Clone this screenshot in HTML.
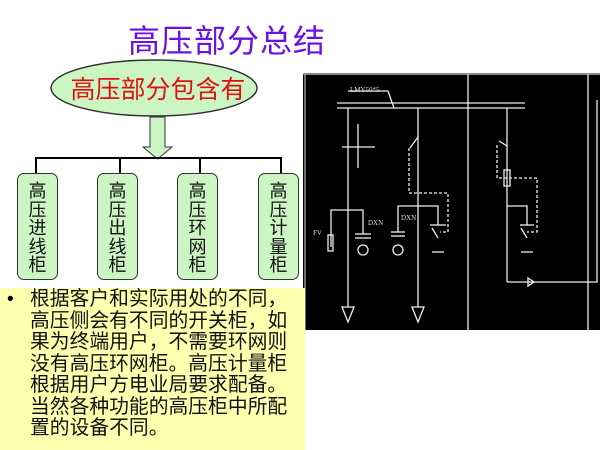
<!DOCTYPE html>
<html><head><meta charset="utf-8"><style>
body{margin:0;width:600px;height:450px;background:#fff;position:relative;overflow:hidden;font-family:"Liberation Sans","Noto Sans CJK SC",sans-serif}
.t{position:absolute;left:128px;top:16px;font-size:32px;color:#6a10e8;letter-spacing:1px;white-space:nowrap}
.box{position:absolute;top:173px;width:41px;height:107px;background:#ccf5c4;border:1.5px solid #333;border-radius:7px;box-sizing:border-box;font-size:18px;line-height:18.5px;text-align:center;padding-top:8px;color:#111}
.y{position:absolute;left:0;top:288px;width:305px;height:162px;background:#ffffb0}
.p{position:absolute;left:30px;top:289px;font-size:19.8px;line-height:21.5px;color:#111;width:280px;white-space:nowrap}
.b{position:absolute;left:7px;top:289px;font-size:19px;line-height:21.6px}
</style></head><body>
<div class="t">高压部分总结</div>
<svg width="600" height="450" style="position:absolute;left:0;top:0">
<ellipse cx="154" cy="88" rx="103" ry="28" fill="#ccf5c4" stroke="#333" stroke-width="1.5"/>
<text x="158" y="98" text-anchor="middle" font-size="25" fill="#e01010" font-family="Liberation Sans,Noto Sans CJK SC,sans-serif">高压部分包含有</text>
<polygon points="150,117 165,117 165,147 172,147 157.5,159 143,147 150,147" fill="#ccf5c4" stroke="#333" stroke-width="1"/>
<polyline points="36,173 36,158 281,158 281,173" fill="none" stroke="#000" stroke-width="2"/>
<line x1="120" y1="158" x2="120" y2="173" stroke="#000" stroke-width="2"/>
<line x1="200" y1="158" x2="200" y2="173" stroke="#000" stroke-width="2"/>
<rect x="303" y="74" width="297" height="256" fill="#000"/>
<line x1="303" y1="74" x2="600" y2="74" stroke="#888" stroke-width="2"/>
<g stroke="#eee" stroke-width="1.3" fill="none">
<line x1="305" y1="74" x2="305" y2="330" stroke="#aaa"/>
<line x1="337" y1="103" x2="525" y2="103"/><line x1="337" y1="108" x2="525" y2="108"/>
<polyline points="348,91 388,91 394,108"/>
<line x1="468" y1="74" x2="468" y2="330"/><line x1="588" y1="74" x2="588" y2="330"/>
<line x1="348" y1="108" x2="348" y2="307"/>
<polygon points="342,307 354,307 348,322"/>
<line x1="342" y1="147" x2="375" y2="147"/><line x1="358" y1="124" x2="358" y2="168"/>
<polyline points="331,247 331,210 363,210 363,234"/>
<line x1="355" y1="234" x2="371" y2="234"/><line x1="355" y1="238" x2="371" y2="238"/>
<circle cx="363" cy="250" r="5"/>
<rect x="328" y="235" width="5" height="16"/>
<line x1="418" y1="108" x2="418" y2="307"/>
<polygon points="412,307 424,307 418,322"/>
<line x1="418" y1="137" x2="410" y2="148"/>
<polyline points="409,148 409,193 448,193 448,232 440,232" stroke-dasharray="3,2"/>
<polyline points="398,232 398,206 438,206 438,225"/>
<line x1="430" y1="225" x2="446" y2="225"/>
<line x1="438" y1="238" x2="432" y2="228"/>
<line x1="432" y1="252" x2="444" y2="252"/>
<line x1="391" y1="232" x2="405" y2="232"/><line x1="391" y1="236" x2="405" y2="236"/>
<circle cx="398" cy="250" r="5"/>
<line x1="507" y1="108" x2="507" y2="282"/>
<line x1="507" y1="146" x2="499" y2="141"/>
<polyline points="497,145 497,178 537,178 537,232 527,232" stroke-dasharray="3,2"/>
<rect x="504" y="170" width="6" height="16"/>
<polyline points="507,206 527,206 527,225"/>
<line x1="520" y1="225" x2="534" y2="225"/><line x1="527" y1="238" x2="521" y2="228"/>
<line x1="521" y1="252" x2="533" y2="252"/>
<polyline points="507,282 597,282 597,100"/>
<polygon points="528,278 534,282 528,286"/>
</g>
<g fill="#ddd" font-size="7" font-family="Liberation Serif,serif">
<text x="350" y="92">LMY50*5</text><text x="313" y="235">FV</text>
<text x="368" y="225">DXN</text><text x="401" y="220">DXN</text>
</g>
</svg>
<div class="box" style="left:17px">高<br>压<br>进<br>线<br>柜</div>
<div class="box" style="left:97px">高<br>压<br>出<br>线<br>柜</div>
<div class="box" style="left:177px">高<br>压<br>环<br>网<br>柜</div>
<div class="box" style="left:258px">高<br>压<br>计<br>量<br>柜</div>
<div class="y"></div>
<div class="b">•</div>
<div class="p">根据客户和实际用处的不同，<br>高压侧会有不同的开关柜，如<br>果为终端用户，不需要环网则<br>没有高压环网柜。高压计量柜<br>根据用户方电业局要求配备。<br>当然各种功能的高压柜中所配<br>置的设备不同。</div>
</body></html>
